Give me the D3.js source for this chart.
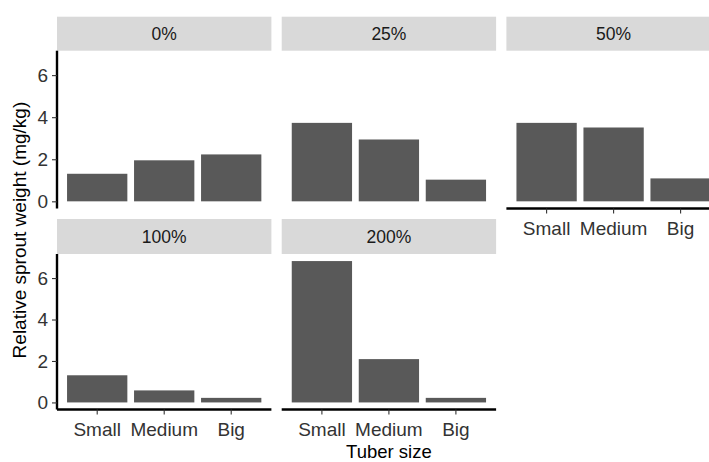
<!DOCTYPE html>
<html>
<head>
<meta charset="utf-8">
<script src="https://cdn.jsdelivr.net/npm/d3@7"></script>
<style>
  html, body { margin: 0; padding: 0; background: #ffffff; }
  svg { display: block; font-family: "Liberation Sans", Arial, sans-serif; }
</style>
</head>
<body>
<svg id="chart" width="709" height="462"></svg>
<script>
// Tuber size categories (x axis) and treatment levels (facets)
const sizes = ["Small", "Medium", "Big"];
const doses = ["0%", "25%", "50%", "100%", "200%"];

// Relative sprout weight (mg/kg) per tuber size, one array per dose
const weight0   = [1.31, 1.95, 2.23];
const weight25  = [3.73, 2.94, 1.03];
const weight50  = [3.73, 3.51, 1.09];
const weight100 = [1.31, 0.58, 0.22];
const weight200 = [6.82, 2.09, 0.22];

const yTicks = [0, 2, 4, 6];

const seriesByDose = [weight0, weight25, weight50, weight100, weight200];

const svg = d3.select("#chart");

// facet grid geometry
const colX = [57, 281.7, 506.4];
const panelW = 214.4;
const rows = [
  { stripTop: 16.7, panelTop: 50.7, panelBottom: 208.5 },
  { stripTop: 219,  panelTop: 254,  panelBottom: 409.5 }
];

const yMax = d3.max(seriesByDose.flat());
const yLo = -0.05 * yMax, yHi = 1.05 * yMax;

const barFill = "#595959";
const stripFill = "#d9d9d9";
const tickTextColor = "#333333";

doses.forEach((dose, i) => {
  const r = Math.floor(i / 3), c = i % 3;
  const row = rows[r];
  const x0 = colX[c];
  const values = seriesByDose[i];
  const data = sizes.map((s, k) => ({ size: s, value: values[k] }));

  const x = d3.scaleBand().domain(sizes).range([x0, x0 + panelW])
    .paddingInner(0.1).paddingOuter(0.15);
  const y = d3.scaleLinear().domain([yLo, yHi]).range([row.panelBottom, row.panelTop]);

  const g = svg.append("g").attr("class", "facet");

  // strip
  g.append("rect")
    .attr("x", x0).attr("y", row.stripTop)
    .attr("width", panelW).attr("height", row.panelTop - row.stripTop)
    .attr("fill", stripFill);
  g.append("text")
    .attr("x", x0 + panelW / 2)
    .attr("y", (row.stripTop + row.panelTop) / 2)
    .attr("dy", "0.36em")
    .attr("text-anchor", "middle")
    .attr("font-size", 17.5)
    .attr("fill", "#1a1a1a")
    .text(dose);

  // bars
  g.selectAll("rect.bar").data(data).join("rect")
    .attr("class", "bar")
    .attr("x", d => x(d.size))
    .attr("width", x.bandwidth())
    .attr("y", d => y(Math.max(0, d.value)))
    .attr("height", d => Math.abs(y(d.value) - y(0)))
    .attr("fill", barFill);

  // y axis on the left column only
  if (c === 0) {
    const ya = g.append("g")
      .attr("transform", `translate(${x0},0)`)
      .call(d3.axisLeft(y).tickValues(yTicks).tickSize(5).tickPadding(4).tickFormat(d3.format("d")));
    ya.select(".domain").attr("stroke", "#000").attr("stroke-width", 2.4)
      .attr("d", `M0,${row.panelTop}V${row.panelBottom}`);
    ya.selectAll(".tick line").attr("stroke", "#333").attr("stroke-width", 1.1);
    ya.selectAll(".tick text").attr("font-size", 19).attr("fill", tickTextColor)
      .attr("font-family", "Liberation Sans, Arial, sans-serif");
  }

  // x axis on panels with nothing below them
  const hasBelow = (i + 3) < doses.length;
  if (!hasBelow) {
    const xa = g.append("g")
      .attr("transform", `translate(0,${row.panelBottom})`)
      .call(d3.axisBottom(x).tickSize(5).tickPadding(8));
    xa.select(".domain").attr("stroke", "#000").attr("stroke-width", 2.4)
      .attr("d", `M${x0},0H${x0 + panelW}`);
    xa.selectAll(".tick line").attr("stroke", "#333").attr("stroke-width", 1.1);
    xa.selectAll(".tick text").attr("font-size", 19).attr("fill", tickTextColor)
      .attr("font-family", "Liberation Sans, Arial, sans-serif");
  }
});

// axis titles
svg.append("text")
  .attr("x", (colX[0] + colX[2] + panelW) / 2)
  .attr("y", 457.5)
  .attr("text-anchor", "middle")
  .attr("font-size", 18.5)
  .attr("fill", "#000")
  .text("Tuber size");

svg.append("text")
  .attr("transform", `translate(26,${(rows[0].panelTop + rows[1].panelBottom) / 2}) rotate(-90)`)
  .attr("text-anchor", "middle")
  .attr("font-size", 19)
  .attr("fill", "#000")
  .text("Relative sprout weight (mg/kg)");
</script>
</body>
</html>
